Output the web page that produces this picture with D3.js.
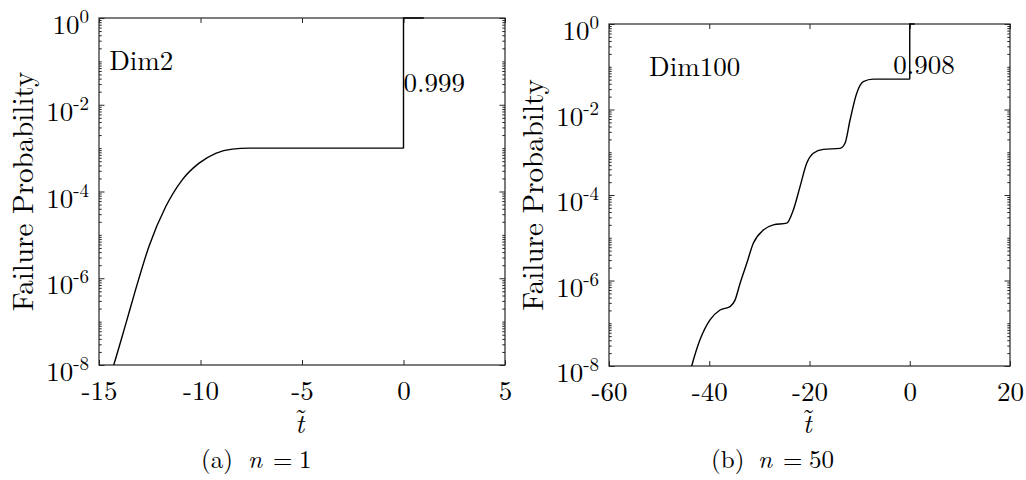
<!DOCTYPE html>
<html>
<head>
<meta charset="utf-8">
<script src="https://cdn.jsdelivr.net/npm/d3@7"></script>
<style>
body { margin: 0; background: #fff; }
</style>
</head>
<body>
<div id="vis"></div>
<script>
// panel (a), n = 1 : t~ vs failure probability
var tA = [-14.5, -14.26, -13.68, -13.19, -12.54, -11.71, -10.90, -10.07, -9.25, -8.43, -7.61, -6.5, 0, 0, 1];
var pA = [4.6e-9, 1.05e-8, 8.9e-8, 5.6e-7, 5.4e-6, 4.5e-5, 1.86e-4, 4.5e-4, 7.6e-4, 9.5e-4, 1.0e-3, 1.0e-3, 1.0e-3, 1, 1];

// panel (b), n = 50
var tB = [-44, -43.5, -41.85, -39.85, -37.85, -35.85, -34.86, -33.86, -32.53, -31.21, -29.22, -27.22, -24.55, -23.23,
          -21.90, -20.56, -19.24, -17.25, -13.92, -12.92, -11.92, -10.58, -9.27, -7.27, 0, 0, 1];
var pB = [6.0e-9, 1.0e-8, 4.1e-8, 1.2e-7, 2.04e-7, 2.45e-7, 3.47e-7, 8.5e-7, 2.5e-6, 7.4e-6, 1.51e-5, 2.0e-5, 2.19e-5, 4.47e-5,
          1.55e-4, 5.5e-4, 9.5e-4, 1.17e-3, 1.23e-3, 1.62e-3, 5.6e-3, 0.024, 0.0447, 0.0513, 0.0513, 1, 1];

var xTicksA = [-15, -10, -5, 0, 5];
var xTicksB = [-60, -40, -20, 0, 20];
var yExps = [0, -2, -4, -6, -8];

var tagA = ["Dim2", "0.999"], tagTA = [-14.5, 0], tagPA = [0.1, 0.0316];
var tagB = ["Dim100", "0.908"], tagTB = [-52, -3.3], tagPB = [0.1, 0.11];

var W = 1026, H = 480, ink = "#262626";
var face = "'Latin Modern Roman', 'Liberation Serif', serif";

var svg = d3.select("#vis")
  .append("svg")
  .attr("width", W)
  .attr("height", H);

function panel(id, box, tt, pp, xTicks, tags, tagT, tagP, ylab, cap, nval) {
  var x = d3.scaleLinear().domain([xTicks[0], xTicks[xTicks.length - 1]]).range([box.x0, box.x1]);
  var y = d3.scaleLog().domain([1e-8, 1]).range([box.y1, box.y0]);
  var g = svg.append("g");

  var minors = [];
  for (var e = -8; e < 0; e++) {
    for (var m = 1; m < 10; m++) {
      if (!(m == 1 && yExps.indexOf(e) >= 0)) minors.push(m * Math.pow(10, e));
    }
  }
  var majors = yExps.map(function(e) { return Math.pow(10, e); });

  // ticks on all four sides, pointing inward
  g.append("g").attr("transform", "translate(0," + box.y1 + ")")
    .call(d3.axisBottom(x).tickValues(xTicks).tickSizeInner(-5).tickSizeOuter(0).tickPadding(16)
      .tickFormat(function(d) { return String(d); }));
  g.append("g").attr("transform", "translate(0," + box.y0 + ")")
    .call(d3.axisTop(x).tickValues(xTicks).tickSizeInner(-5).tickSizeOuter(0).tickFormat(""));
  [[box.x0, d3.axisLeft], [box.x1, d3.axisRight]].forEach(function(s) {
    g.append("g").attr("transform", "translate(" + s[0] + ",0)")
      .call(s[1](y).tickValues(majors).tickSizeInner(-5.5).tickSizeOuter(0).tickFormat(""));
    g.append("g").attr("transform", "translate(" + s[0] + ",0)")
      .call(s[1](y).tickValues(minors).tickSizeInner(-2.7).tickSizeOuter(0).tickFormat(""));
  });
  g.selectAll(".domain").remove();
  g.selectAll(".tick line").attr("stroke", ink).attr("stroke-width", 1);
  g.selectAll(".tick text").attr("font-size", 27).attr("fill", "#000");

  g.append("rect")
    .attr("x", box.x0).attr("y", box.y0)
    .attr("width", box.x1 - box.x0).attr("height", box.y1 - box.y0)
    .attr("fill", "none").attr("stroke", ink).attr("stroke-width", 1.2);

  // y tick labels 10^k
  yExps.forEach(function(e) {
    var t = g.append("text")
      .attr("x", box.x0 - 10)
      .attr("y", y(Math.pow(10, e)) + 16)
      .attr("text-anchor", "end")
      .attr("font-size", 27);
    t.append("tspan").text("10");
    t.append("tspan").attr("dy", -11).attr("font-size", 19).text(String(e));
  });

  // curve: smooth part, then the jump at t = 0
  var pts = tt.map(function(d, i) { return [d, pp[i]]; });
  var j = 1;
  while (j < pts.length && pts[j][0] !== pts[j - 1][0]) j++;
  g.append("clipPath").attr("id", id)
    .append("rect").attr("x", box.x0).attr("y", box.y0 - 2)
    .attr("width", box.x1 - box.x0).attr("height", box.y1 - box.y0 + 2);
  var line = d3.line().x(function(d) { return x(d[0]); }).y(function(d) { return y(d[1]); });
  g.append("path")
    .attr("d", line.curve(d3.curveMonotoneX)(pts.slice(0, j)))
    .attr("clip-path", "url(#" + id + ")")
    .attr("fill", "none").attr("stroke", "#000").attr("stroke-width", 1.4);
  g.append("path")
    .attr("d", line.curve(d3.curveLinear)(pts.slice(j - 1)))
    .attr("clip-path", "url(#" + id + ")")
    .attr("fill", "none").attr("stroke", "#000").attr("stroke-width", 1.4);

  tags.forEach(function(s, i) {
    g.append("text")
      .attr("x", x(tagT[i]))
      .attr("y", y(tagP[i]))
      .attr("dy", "0.33em")
      .attr("font-size", 27)
      .text(s);
  });

  // axis labels
  var cx = (box.x0 + box.x1) / 2, cy = (box.y0 + box.y1) / 2;
  g.append("text")
    .attr("transform", "translate(" + (box.x0 - 66) + "," + cy + ") rotate(-90)")
    .attr("text-anchor", "middle")
    .attr("font-size", 29)
    .text(ylab);
  var tl = g.append("text")
    .attr("x", cx - 1).attr("y", 433)
    .attr("text-anchor", "middle")
    .attr("font-size", 27);
  tl.append("tspan").attr("font-style", "italic").text("t");
  tl.append("tspan").attr("dx", -10).attr("dy", -5).text("\u02dc");

  // caption
  var c = box.x0 + 158;
  var cap1 = g.append("text").attr("y", 468).attr("font-size", 25);
  cap1.append("tspan").attr("x", c - 56).text(cap);
  cap1.append("tspan").attr("x", c - 9).attr("font-style", "italic").text("n");
  cap1.append("tspan").attr("x", c + 16).text("=");
  cap1.append("tspan").attr("x", c + 42).text(nval);
}

panel("clipA", {x0: 99, x1: 505, y0: 18, y1: 365}, tA, pA, xTicksA, tagA, tagTA, tagPA,
  "Failure Probability", "(a)", "1");
panel("clipB", {x0: 609, x1: 1010, y0: 24, y1: 366}, tB, pB, xTicksB, tagB, tagTB, tagPB,
  "Failure Probabilty", "(b)", "50");

svg.selectAll("text").style("font-family", face);
</script>
</body>
</html>
